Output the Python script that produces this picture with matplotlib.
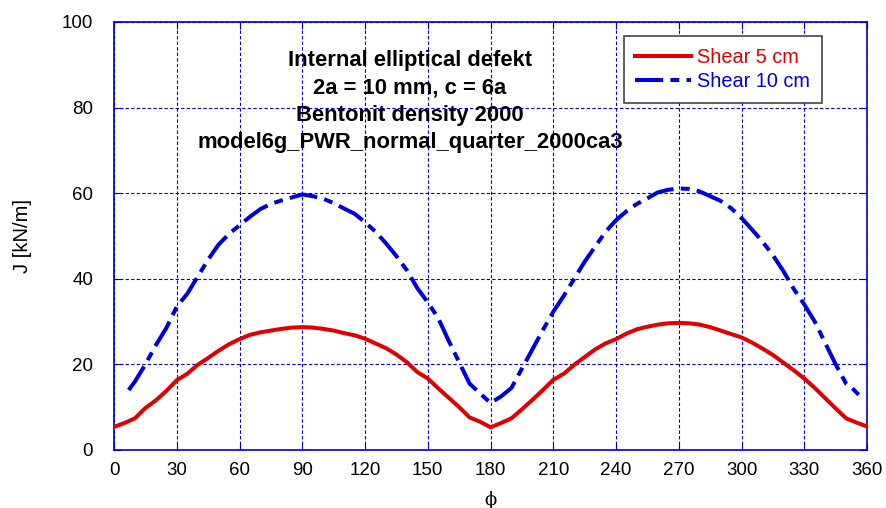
import numpy as np
import matplotlib
matplotlib.use("Agg")
import matplotlib.pyplot as plt

# shear 5 cm (red, solid)
phi5 = [0, 5, 10, 15, 20, 25, 30, 35, 40, 45, 50, 55, 60, 65, 70, 75, 80, 85, 90,
        95, 100, 105, 110, 115, 120, 125, 130, 135, 140, 145, 150, 155, 160, 165,
        170, 175, 180, 185, 190, 195, 200, 205, 210, 215, 220, 225, 230, 235, 240,
        245, 250, 255, 260, 265, 270, 275, 280, 285, 290, 295, 300, 305, 310, 315,
        320, 325, 330, 335, 340, 345, 350, 355, 360]
j5 = [5.4, 6.3, 7.4, 9.8, 11.6, 13.8, 16.3, 17.8, 19.9, 21.5, 23.2, 24.7, 25.9,
      26.9, 27.5, 27.9, 28.3, 28.6, 28.7, 28.6, 28.3, 27.9, 27.3, 26.8, 26.0, 24.9,
      23.8, 22.3, 20.5, 18.2, 16.7, 14.4, 12.2, 10.0, 7.6, 6.6, 5.3, 6.3, 7.4, 9.5,
      11.7, 14.0, 16.4, 17.8, 19.9, 21.7, 23.5, 24.9, 25.9, 27.2, 28.2, 28.8, 29.3,
      29.6, 29.7, 29.6, 29.3, 28.7, 27.9, 27.1, 26.3, 25.1, 23.7, 22.2, 20.4, 18.6,
      16.7, 14.5, 12.1, 9.7, 7.4, 6.4, 5.5]

# shear 10 cm (blue, dashed)
phi10 = [7, 10, 15, 20, 25, 30, 35, 40, 45, 50, 55, 60, 65, 70, 75, 80, 85, 90,
         95, 100, 105, 110, 115, 120, 125, 130, 135, 140, 145, 150, 155, 160, 165,
         170, 175, 180, 185, 190, 195, 200, 205, 210, 215, 220, 225, 230, 235, 240,
         245, 250, 255, 260, 265, 270, 275, 280, 285, 290, 295, 300, 305, 310, 315,
         320, 325, 330, 335, 340, 345, 350, 353, 356]
j10 = [14.0, 16.0, 20.0, 24.5, 28.5, 33.5, 36.5, 40.5, 44.5, 48.0, 50.5, 52.5,
       54.5, 56.3, 57.5, 58.3, 59.0, 59.7, 59.3, 58.7, 57.7, 56.4, 55.2, 53.2, 51.0,
       48.3, 45.3, 42.0, 37.8, 34.5, 30.8, 25.5, 20.5, 15.5, 13.2, 11.0, 12.5, 14.5,
       19.0, 23.5, 28.0, 32.3, 36.0, 40.0, 44.0, 47.5, 51.0, 53.7, 55.8, 57.5, 58.8,
       60.2, 60.8, 61.1, 61.0, 60.4, 59.3, 58.2, 56.5, 54.2, 51.5, 48.7, 45.5, 41.8,
       37.6, 34.0, 30.0, 25.0, 20.0, 15.5, 14.4, 12.9]

xticks = list(range(0, 361, 30))
yticks = [0, 20, 40, 60, 80, 100]
title_lines = ["Internal elliptical defekt", "2a = 10 mm, c = 6a",
               "Bentonit density 2000", "model6g_PWR_normal_quarter_2000ca3"]

plt.rcParams['font.family'] = ['Liberation Sans', 'DejaVu Sans']
axcol = '#0000cc'

fig = plt.figure(figsize=(8.86, 5.08), dpi=100)
ax = fig.add_axes([0.1287, 0.1142, 0.8499, 0.8425])

ax.plot(phi5, j5, color='#e00000', lw=2.9, label='Shear 5 cm', zorder=3)
ax.plot(phi10, j10, color='#0000dd', lw=2.9, ls=(0, (7, 1.8, 2.2, 1.8)),
        label='Shear 10 cm', zorder=3)

ax.set_xlim(0, 360)
ax.set_ylim(0, 100)
ax.set_xticks(xticks)
ax.set_yticks(yticks)
ax.tick_params(direction='in', length=5, color=axcol, labelsize=13.5,
               top=True, right=True)
ax.tick_params(axis='y', pad=15)
ax.tick_params(axis='x', pad=9)
ax.grid(True, color=axcol, ls=(0, (3, 2)), lw=0.8)
for s in ax.spines.values():
    s.set_color(axcol)
    s.set_linewidth(1.2)

ax.set_ylabel('J [kN/m]', fontsize=14.5)
ax.yaxis.set_label_coords(-0.109, 0.5)
ax.set_xlabel('\u03d5', fontsize=13, family=['DejaVu Serif'], labelpad=8)

for i, line in enumerate(title_lines):
    ax.text(0.393, 0.910 - i * 0.064, line, transform=ax.transAxes, ha='center',
            va='center', fontsize=15.8, fontweight='bold')

leg = ax.legend(loc='upper right', bbox_to_anchor=(0.940, 0.967), fontsize=14.3,
                fancybox=False, framealpha=1, edgecolor='#444444',
                handlelength=2.8, borderpad=0.6, labelspacing=0.25,
                handletextpad=0.3, borderaxespad=0)
leg.get_frame().set_linewidth(1.2)
for t, c in zip(leg.get_texts(), ['#e00000', '#0000dd']):
    t.set_color(c)

fig.savefig('out.png', dpi=100)
